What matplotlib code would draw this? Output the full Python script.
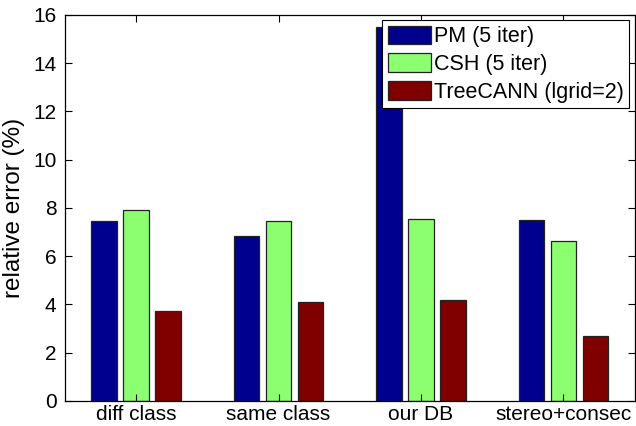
import numpy as np
import matplotlib.pyplot as plt

plt.rcParams['font.family'] = ['Liberation Sans', 'DejaVu Sans']

categories = ['diff class', 'same class', 'our DB', 'stereo+consec']
series_names = ['PM (5 iter)', 'CSH (5 iter)', 'TreeCANN (lgrid=2)']
pm = [7.45, 6.83, 15.5, 7.48]
csh = [7.92, 7.45, 7.56, 6.61]
treecann = [3.73, 4.08, 4.17, 2.70]
colors = ['#00008F', '#8CFF70', '#800000']

fig = plt.figure(figsize=(6.36, 4.26), dpi=100)
ax = fig.add_axes([0.102, 0.059, 0.896, 0.906])

x = np.arange(1, len(categories) + 1)
step = 0.225
width = 0.18
for i, (vals, name, col) in enumerate(zip([pm, csh, treecann], series_names, colors)):
    ax.bar(x + (i - 1) * step, vals, width, color=col, edgecolor='#222222',
           linewidth=0.9, label=name)

ax.set_xlim(0.5, 4.5)
ax.set_ylim(0, 16)
ax.set_yticks(np.arange(0, 17, 2))
ax.set_xticks(x)
ax.set_xticklabels(categories)
ax.tick_params(direction='in', top=True, right=True, labelsize=15, length=5,
               width=0.8, pad=6)
ax.tick_params(axis='x', pad=3)
ax.set_ylabel('relative error (%)', fontsize=17.5, labelpad=6)
for s in ax.spines.values():
    s.set_linewidth(0.9)

leg = ax.legend(loc='upper right', fontsize=15.5, fancybox=False, edgecolor='black',
                framealpha=1, handlelength=2.0, handleheight=0.95, handletextpad=0.15,
                labelspacing=0.28, borderpad=0.25, borderaxespad=0.25)
leg.get_frame().set_linewidth(0.8)

fig.savefig('out.png', dpi=100)
